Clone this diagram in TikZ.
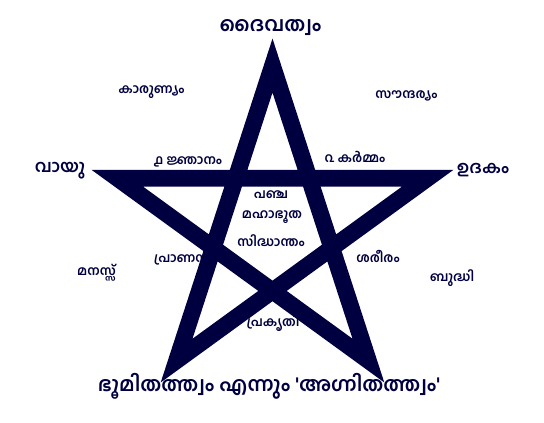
\documentclass[tikz,border=0pt]{standalone}
\usepackage{fontspec}
\newfontfamily\malfont[Script=Malayalam]{Hind Kochi}
\definecolor{starnavy}{RGB}{0,0,64}
\tikzset{
  biglabel/.style={text=starnavy, inner sep=0pt, font=\malfont\bfseries\fontsize{20}{23}\selectfont},
  vertexlabel/.style={text=starnavy, inner sep=0pt, font=\malfont\bfseries\fontsize{17}{20}\selectfont},
  smalllabel/.style={text=starnavy, inner sep=0pt, font=\malfont\bfseries\fontsize{13}{15}\selectfont},
}
\begin{document}
\begin{tikzpicture}[x=1pt,y=-1pt]
  \useasboundingbox (0,0) rectangle (544,423);
  % points of the star
  \coordinate (top) at (272.5,65.6);
  \coordinate (left) at (117.4,178.3);
  \coordinate (right) at (427.6,178.3);
  \coordinate (botleft) at (176.6,360.6);
  \coordinate (botright) at (368.4,360.6);
  \draw[starnavy, line width=16.7pt, line join=miter, miter limit=10]
    (top) -- (botleft) -- (right) -- (left) -- (botright) -- cycle;
  % labels at the points
  \node[biglabel] (toplabel) at (270.5,28) {ദൈവത്വം};
  \node[vertexlabel] (leftlabel) at (60,171) {വായു};
  \node[vertexlabel] (rightlabel) at (483,170) {ഉദകം};
  \node[biglabel] (bottomlabel) at (269,386) {ഭൂമിതത്ത്വം എന്നും 'അഗ്നിതത്ത്വം'};
  % labels outside
  \node[smalllabel] (upleft) at (151.5,92.5) {കാരുണ്യം};
  \node[smalllabel] (upright) at (406.5,96) {സൗന്ദര്യം};
  \node[smalllabel] (lowleft) at (96.5,273) {മനസ്സ്};
  \node[smalllabel] (lowright) at (452,278) {ബുദ്ധി};
  % labels in the corners
  \node[smalllabel] (cornerul) at (188,162) {൧ ജ്ഞാനം};
  \node[smalllabel] (cornerur) at (355,157) {൨ കർമ്മം};
  \node[smalllabel] (cornerll) at (182,258) {പ്രാണൻ};
  \node[smalllabel] (cornerlr) at (378,256) {ശരീരം};
  \node[smalllabel] (cornerb) at (273,323.5) {പ്രകൃതി};
  % centre
  \node[smalllabel] (centreone) at (271,195) {പഞ്ച};
  \node[smalllabel] (centretwo) at (272,217) {മഹാഭൂത};
  \node[smalllabel] (centrethree) at (271,240.5) {സിദ്ധാന്തം};
\end{tikzpicture}
\end{document}
